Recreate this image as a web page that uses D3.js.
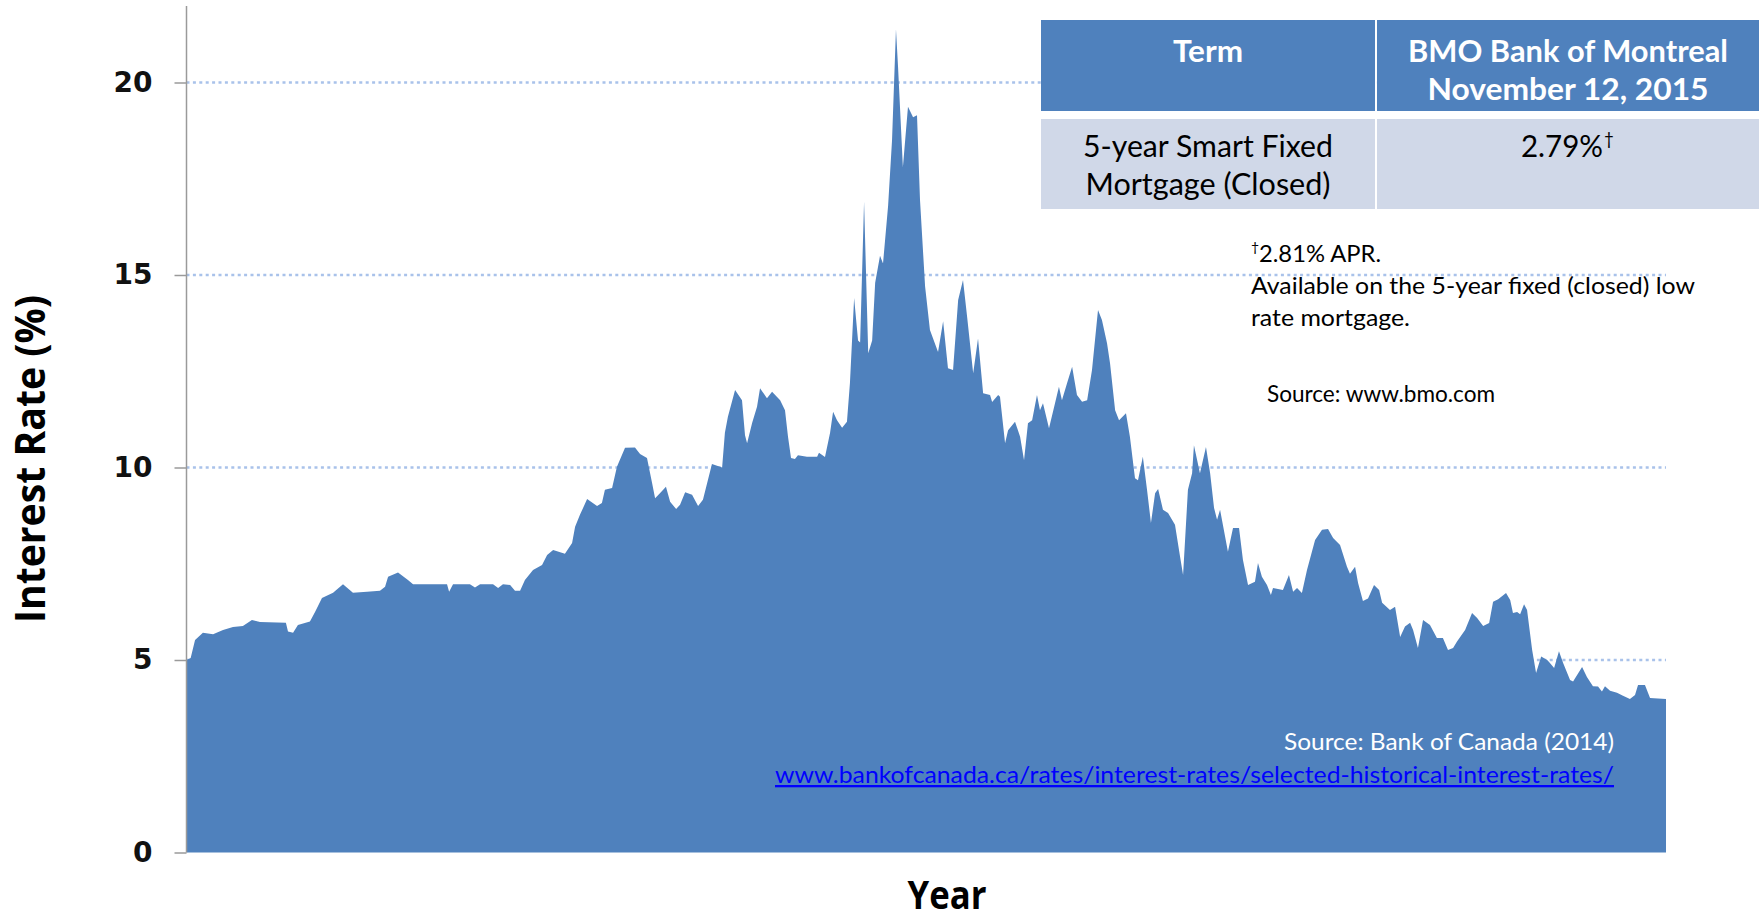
<!DOCTYPE html>
<html>
<head>
<meta charset="utf-8">
<script src="https://cdn.jsdelivr.net/npm/d3@7"></script>
<style>
body { margin: 0; background: #fff; }
svg { display: block; }
</style>
</head>
<body>
<div id="chart"></div>
<script>
// 5-year conventional mortgage rate (year, %)
var years = [1951.00, 1951.18, 1951.37, 1951.71, 1952.15, 1952.58, 1953.01, 1953.44, 1953.83, 1954.18,
  1955.30, 1955.39, 1955.61, 1955.82, 1956.34, 1956.56, 1956.86, 1957.34, 1957.77, 1958.20,
  1958.81, 1959.37, 1959.59, 1959.72, 1960.15, 1960.58, 1960.80, 1962.27, 1962.36, 1962.53,
  1963.26, 1963.48, 1963.70, 1964.26, 1964.48, 1964.69, 1965.00, 1965.21, 1965.43, 1965.64,
  1965.99, 1966.38, 1966.60, 1966.86, 1967.37, 1967.68, 1967.81, 1968.02, 1968.33, 1968.76,
  1968.97, 1969.10, 1969.41, 1969.62, 1969.97, 1970.40, 1970.62, 1970.92, 1971.14, 1971.27,
  1971.48, 1971.74, 1971.92, 1972.18, 1972.35, 1972.57, 1972.87, 1973.13, 1973.34, 1973.73,
  1974.17, 1974.29, 1974.42, 1974.73, 1975.03, 1975.16, 1975.25, 1975.47, 1975.68, 1975.81,
  1976.11, 1976.33, 1976.68, 1976.89, 1977.02, 1977.15, 1977.32, 1977.45, 1977.84, 1978.28,
  1978.36, 1978.62, 1978.84, 1978.97, 1979.14, 1979.36, 1979.57, 1979.70, 1979.88, 1980.05,
  1980.14, 1980.31, 1980.49, 1980.66, 1980.79, 1981.00, 1981.13, 1981.35, 1981.52, 1981.69,
  1981.78, 1981.99, 1982.21, 1982.43, 1982.60, 1982.73, 1982.95, 1983.16, 1983.51, 1983.73,
  1983.94, 1984.16, 1984.38, 1984.59, 1984.77, 1985.03, 1985.24, 1985.46, 1985.76, 1985.85,
  1986.11, 1986.19, 1986.41, 1986.54, 1986.84, 1987.06, 1987.23, 1987.40, 1987.58, 1987.79,
  1987.92, 1988.05, 1988.31, 1988.57, 1988.74, 1988.87, 1989.09, 1989.31, 1989.52, 1989.74,
  1989.96, 1990.17, 1990.43, 1990.60, 1990.82, 1990.95, 1991.17, 1991.34, 1991.64, 1991.81,
  1992.03, 1992.16, 1992.37, 1992.55, 1992.72, 1992.90, 1993.03, 1993.24, 1993.46, 1993.76,
  1993.98, 1994.11, 1994.32, 1994.50, 1994.58, 1994.84, 1995.10, 1995.28, 1995.45, 1995.58,
  1995.71, 1996.05, 1996.27, 1996.53, 1996.70, 1996.92, 1997.22, 1997.35, 1997.52, 1997.74,
  1997.91, 1998.00, 1998.43, 1998.69, 1998.87, 1999.04, 1999.25, 1999.47, 1999.82, 2000.12,
  2000.38, 2000.60, 2000.90, 2001.20, 2001.33, 2001.55, 2001.68, 2001.89, 2002.11, 2002.37,
  2002.59, 2002.72, 2003.06, 2003.28, 2003.50, 2003.71, 2003.93, 2004.06, 2004.27, 2004.49,
  2004.79, 2005.09, 2005.35, 2005.57, 2005.79, 2005.96, 2006.31, 2006.61, 2006.83, 2007.09,
  2007.35, 2007.52, 2007.74, 2008.08, 2008.26, 2008.38, 2008.56, 2008.69, 2008.86, 2008.99,
  2009.21, 2009.38, 2009.60, 2009.86, 2009.98, 2010.16, 2010.37, 2010.55, 2010.85, 2010.98,
  2011.37, 2011.58, 2011.84, 2012.06, 2012.23, 2012.36, 2012.58, 2012.88, 2013.14, 2013.44,
  2013.66, 2013.79, 2014.09, 2014.31, 2015.00];

var rates = [5.00, 5.05, 5.52, 5.71, 5.67, 5.78, 5.86, 5.88, 6.04, 5.99,
  5.97, 5.74, 5.71, 5.91, 6.00, 6.25, 6.61, 6.75, 6.97, 6.75,
  6.77, 6.80, 6.90, 7.16, 7.27, 7.08, 6.97, 6.97, 6.77, 6.97,
  6.97, 6.88, 6.97, 6.97, 6.87, 6.97, 6.95, 6.80, 6.80, 7.08,
  7.34, 7.47, 7.73, 7.86, 7.76, 8.04, 8.46, 8.77, 9.18, 9.00,
  9.08, 9.42, 9.47, 10.02, 10.51, 10.52, 10.35, 10.25, 9.60, 9.20,
  9.33, 9.50, 9.11, 8.92, 9.03, 9.36, 9.29, 9.00, 9.16, 10.09,
  10.00, 10.90, 11.32, 12.01, 11.75, 10.84, 10.63, 11.16, 11.58, 12.06,
  11.80, 11.97, 11.75, 11.49, 10.80, 10.25, 10.22, 10.32, 10.28, 10.28,
  10.38, 10.27, 10.90, 11.45, 11.23, 11.03, 11.19, 12.20, 14.40, 13.30,
  13.25, 16.90, 12.97, 13.30, 14.80, 15.50, 15.30, 16.80, 18.50, 21.38,
  20.40, 17.80, 19.37, 19.10, 19.15, 16.95, 14.70, 13.57, 13.00, 13.80,
  12.58, 12.53, 14.35, 14.87, 13.90, 12.45, 13.35, 11.93, 11.88, 11.70,
  11.88, 11.84, 10.63, 10.97, 11.19, 10.80, 10.19, 11.15, 11.23, 11.88,
  11.49, 11.67, 11.02, 11.67, 12.10, 11.75, 12.19, 12.62, 11.88, 11.71,
  11.75, 12.53, 14.09, 13.83, 13.23, 12.71, 11.49, 11.23, 11.41, 10.80,
  9.72, 9.67, 10.28, 9.42, 8.56, 9.33, 9.44, 8.90, 8.82, 8.51,
  7.68, 7.21, 9.42, 9.85, 10.58, 9.85, 10.53, 9.85, 8.95, 8.64,
  8.90, 7.81, 8.43, 8.43, 7.60, 6.95, 7.03, 7.52, 7.16, 6.95,
  6.69, 6.87, 6.82, 7.21, 6.77, 6.87, 6.74, 7.34, 8.12, 8.38,
  8.40, 8.17, 7.99, 7.42, 7.24, 7.42, 7.00, 6.53, 6.60, 6.95,
  6.82, 6.49, 6.30, 6.38, 5.60, 5.87, 5.97, 5.78, 5.31, 6.04,
  5.91, 5.57, 5.57, 5.26, 5.31, 5.48, 5.78, 6.22, 6.09, 5.88,
  5.96, 6.51, 6.58, 6.74, 6.56, 6.22, 6.25, 6.19, 6.45, 6.30,
  5.26, 4.66, 5.09, 5.00, 4.92, 4.79, 5.23, 4.92, 4.48, 4.44,
  4.82, 4.56, 4.32, 4.31, 4.18, 4.32, 4.20, 4.15, 4.07, 3.99,
  4.09, 4.35, 4.35, 4.01, 3.99];

var yTicks = [0, 5, 10, 15, 20];
var gridTicks = [5, 10, 15, 20];

var tableHeader = ["Term", ["BMO Bank of Montreal", "November 12, 2015"]];
var tableTerm = ["5-year Smart Fixed", "Mortgage (Closed)"];
var tableRate = "2.79%";
var noteLines = ["2.81% APR.", "Available on the 5-year fixed (closed) low", "rate mortgage."];

var width = 1761, height = 920;
var blue = "#4f81bd";
var textFont = "Lato, 'Open Sans', sans-serif";

var svg = d3.select("#chart").append("svg")
  .attr("width", width)
  .attr("height", height);

var x = d3.scaleLinear().domain([1951, 2015]).range([186.5, 1666]);
var y = d3.scaleLinear().domain([0, 20]).range([852.5, 82.5]);

var data = years.map(function(d, i) { return { year: d, rate: rates[i] }; });

// dotted grid, behind the area
svg.selectAll("line.grid")
  .data(gridTicks)
  .enter().append("line")
    .attr("class", "grid")
    .attr("x1", x(1951)).attr("x2", x(2015))
    .attr("y1", function(d) { return y(d); })
    .attr("y2", function(d) { return y(d); })
    .attr("stroke", "#a9c2ea")
    .attr("stroke-width", 2.5)
    .attr("stroke-dasharray", "3,3.4");

var area = d3.area()
  .x(function(d) { return x(d.year); })
  .y0(y(0))
  .y1(function(d) { return y(d.rate); });

svg.append("path")
  .datum(data)
  .attr("d", area)
  .attr("fill", blue);

// y axis
var yAxis = d3.axisLeft(y).tickValues(yTicks).tickSize(12).tickPadding(22);
var gy = svg.append("g")
  .attr("transform", "translate(" + x(1951) + ",0)")
  .call(yAxis);
gy.select(".domain").remove();
gy.selectAll(".tick line").attr("stroke", "#9a9a9a").attr("stroke-width", 1.5);
gy.selectAll(".tick text")
  .attr("fill", "#111")
  .attr("font-family", "'DejaVu Sans', Verdana, sans-serif")
  .attr("font-weight", "bold")
  .attr("font-size", 28);

svg.append("line")
  .attr("x1", x(1951)).attr("x2", x(1951))
  .attr("y1", 6).attr("y2", y(0))
  .attr("stroke", "#9a9a9a")
  .attr("stroke-width", 1.5);

svg.append("text")
  .attr("transform", "translate(45,459) rotate(-90)")
  .attr("text-anchor", "middle")
  .attr("font-family", "'Open Sans', sans-serif")
  .attr("font-weight", "bold")
  .attr("font-size", 42)
  .attr("textLength", 328)
  .attr("lengthAdjust", "spacingAndGlyphs")
  .text("Interest Rate (%)");

svg.append("text")
  .attr("x", 947).attr("y", 909)
  .attr("text-anchor", "middle")
  .attr("font-family", "'Open Sans', sans-serif")
  .attr("font-weight", "bold")
  .attr("font-size", 39)
  .attr("textLength", 79)
  .attr("lengthAdjust", "spacingAndGlyphs")
  .text("Year");

// table
var cells = [
  { x: 1041, y: 20, w: 334, h: 91, fill: blue },
  { x: 1377, y: 20, w: 382, h: 91, fill: blue },
  { x: 1041, y: 119, w: 334, h: 90, fill: "#d0d8e8" },
  { x: 1377, y: 119, w: 382, h: 90, fill: "#d0d8e8" }
];
svg.selectAll("rect.cell")
  .data(cells)
  .enter().append("rect")
    .attr("class", "cell")
    .attr("x", function(d) { return d.x; })
    .attr("y", function(d) { return d.y; })
    .attr("width", function(d) { return d.w; })
    .attr("height", function(d) { return d.h; })
    .attr("fill", function(d) { return d.fill; });

function label(t, px, py, size, opts) {
  opts = opts || {};
  var el = svg.append("text")
    .attr("x", px).attr("y", py)
    .attr("text-anchor", opts.anchor || "middle")
    .attr("font-family", textFont)
    .attr("font-size", size)
    .attr("font-weight", opts.bold ? "bold" : "normal")
    .attr("fill", opts.fill || "#000")
    .text(t);
  if (opts.len) el.attr("textLength", opts.len).attr("lengthAdjust", "spacingAndGlyphs");
  if (opts.underline) el.attr("text-decoration", "underline");
  return el;
}

label(tableHeader[0], 1208, 62, 31, { bold: true, fill: "#fff", len: 70 });
label(tableHeader[1][0], 1568, 62, 31, { bold: true, fill: "#fff", len: 320 });
label(tableHeader[1][1], 1568, 100, 31, { bold: true, fill: "#fff", len: 281 });
label(tableTerm[0], 1208, 157, 30, { len: 250 });
label(tableTerm[1], 1208, 195, 30, { len: 245 });
label(tableRate, 1521, 157, 30, { anchor: "start", len: 82 });
label("\u2020", 1604, 145, 17, { anchor: "start" });

// notes
label("\u2020", 1251, 252, 14, { anchor: "start" });
label(noteLines[0], 1259, 262, 23, { anchor: "start", len: 122 });
label(noteLines[1], 1251, 294, 23, { anchor: "start", len: 444 });
label(noteLines[2], 1251, 326, 23, { anchor: "start", len: 159 });
label("Source: www.bmo.com", 1267, 402, 23, { anchor: "start", len: 228 });

label("Source: Bank of Canada (2014)", 1614, 750, 23, { anchor: "end", fill: "#fff", len: 330 });
label("www.bankofcanada.ca/rates/interest-rates/selected-historical-interest-rates/", 1614, 783, 23,
  { anchor: "end", fill: "#0000ff", len: 839, underline: true });
</script>
</body>
</html>
